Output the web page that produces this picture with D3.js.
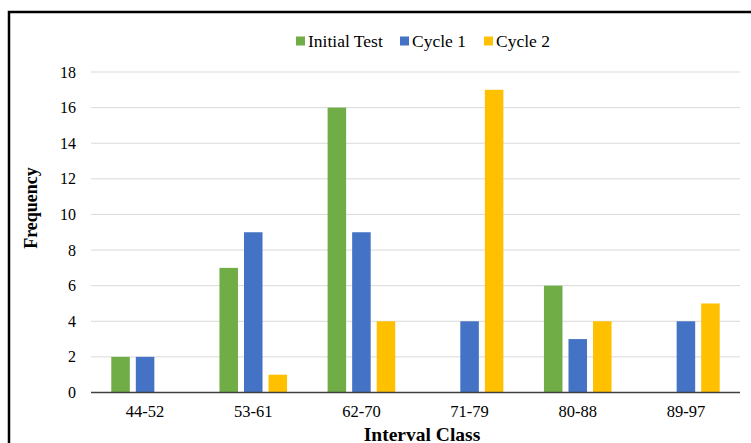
<!DOCTYPE html>
<html>
<head>
<meta charset="utf-8">
<script src="https://cdn.jsdelivr.net/npm/d3@7"></script>
<style>
  body { margin: 0; background: #fff; }
  svg { display: block; }
</style>
</head>
<body>
<div id="chart"></div>
<script>
// Frequency per interval class
const classes = ['44-52', '53-61', '62-70', '71-79', '80-88', '89-97'];
const seriesNames = ['Initial Test', 'Cycle 1', 'Cycle 2'];
const initialTest = [2, 7, 16, 0, 6, 0];
const cycle1 = [2, 9, 9, 4, 3, 4];
const cycle2 = [0, 1, 4, 17, 4, 5];
const yTicks = [0, 2, 4, 6, 8, 10, 12, 14, 16, 18];

const colors = ['#70AD47', '#4472C4', '#FFC000'];
const values = [initialTest, cycle1, cycle2];

const width = 751, height = 443;
const margin = { left: 91, right: 11, top: 72, bottom: 50.5 };
const serif = 'Liberation Serif, Times New Roman, serif';

const svg = d3.select('#chart')
    .append('svg')
    .attr('width', width)
    .attr('height', height);

// Outer frame (cut off at right and bottom like the reference)
svg.append('rect')
    .attr('x', 9)
    .attr('y', 12)
    .attr('width', 900)
    .attr('height', 600)
    .attr('fill', 'none')
    .attr('stroke', '#000')
    .attr('stroke-width', 2.5);

const x0 = d3.scaleBand()
    .domain(classes)
    .range([margin.left, width - margin.right])
    .paddingInner(0.375)
    .paddingOuter(0.1875);

const x1 = d3.scaleBand()
    .domain(seriesNames)
    .range([0, x0.bandwidth()])
    .paddingInner(0.245);

const y = d3.scaleLinear()
    .domain([0, 18])
    .range([height - margin.bottom, margin.top]);

// Gridlines
svg.append('g')
    .selectAll('line')
    .data(yTicks.filter(d => d > 0))
    .join('line')
    .attr('x1', margin.left)
    .attr('x2', width - margin.right)
    .attr('y1', d => y(d))
    .attr('y2', d => y(d))
    .attr('stroke', '#d9d9d9')
    .attr('stroke-width', 1);

// Y tick labels
svg.append('g')
    .selectAll('text')
    .data(yTicks)
    .join('text')
    .attr('x', 76)
    .attr('y', d => y(d))
    .attr('dy', '0.35em')
    .attr('text-anchor', 'end')
    .attr('font-family', serif)
    .attr('font-size', '16px')
    .attr('fill', '#000')
    .text(d => d);

// Bars
const groups = svg.append('g')
    .selectAll('g')
    .data(classes)
    .join('g')
    .attr('transform', d => `translate(${x0(d)},0)`);

groups.selectAll('rect')
    .data((d, i) => seriesNames.map((s, j) => ({ s, v: values[j][i], c: colors[j] })))
    .join('rect')
    .filter(d => d.v > 0)
    .attr('x', d => x1(d.s))
    .attr('y', d => y(d.v))
    .attr('width', x1.bandwidth())
    .attr('height', d => y(0) - y(d.v))
    .attr('fill', d => d.c);

// X axis line
svg.append('line')
    .attr('x1', margin.left)
    .attr('x2', width - margin.right)
    .attr('y1', y(0))
    .attr('y2', y(0))
    .attr('stroke', '#404040')
    .attr('stroke-width', 1.5);

// X tick labels
svg.append('g')
    .selectAll('text')
    .data(classes)
    .join('text')
    .attr('x', d => x0(d) + x0.bandwidth() / 2)
    .attr('y', 417)
    .attr('text-anchor', 'middle')
    .attr('font-family', serif)
    .attr('font-size', '16.5px')
    .attr('fill', '#000')
    .text(d => d);

// Axis titles
svg.append('text')
    .attr('x', 422)
    .attr('y', 441)
    .attr('text-anchor', 'middle')
    .attr('font-family', serif)
    .attr('font-size', '19.5px')
    .attr('font-weight', 'bold')
    .text('Interval Class');

svg.append('text')
    .attr('transform', 'translate(37, 208) rotate(-90)')
    .attr('text-anchor', 'middle')
    .attr('font-family', serif)
    .attr('font-size', '18px')
    .attr('font-weight', 'bold')
    .text('Frequency');

// Legend
const legendX = [296, 400, 484];
const legend = svg.append('g')
    .selectAll('g')
    .data(seriesNames)
    .join('g')
    .attr('transform', (d, i) => `translate(${legendX[i]}, 41)`);

legend.append('rect')
    .attr('x', 0)
    .attr('y', -4.5)
    .attr('width', 9)
    .attr('height', 9)
    .attr('fill', (d, i) => colors[i]);

legend.append('text')
    .attr('x', 12)
    .attr('y', 0)
    .attr('dy', '0.35em')
    .attr('font-family', serif)
    .attr('font-size', '17.5px')
    .attr('fill', '#000')
    .text(d => d);
</script>
</body>
</html>
